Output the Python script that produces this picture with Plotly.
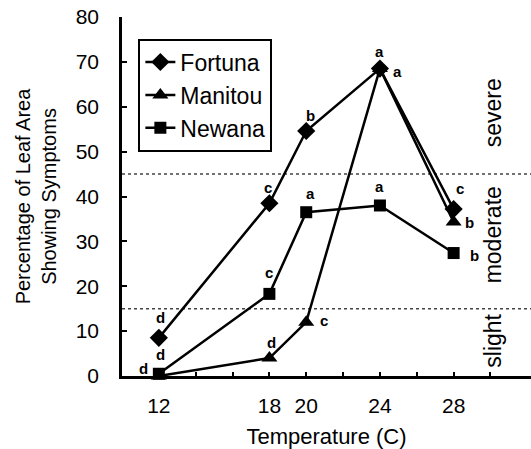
import plotly.graph_objects as go

temps = [12, 18, 20, 24, 28]
fortuna = [8.5, 38.5, 54.6, 68.5, 37.2]
manitou = [0, 4, 12, 68.5, 34.3]
newana = [0.5, 18.3, 36.5, 38, 27.4]

fortuna_letters = ["d", "c", "b", "a", "c"]
manitou_letters = ["d", "d", "c", "a", "b"]
newana_letters = ["d", "c", "a", "a", "b"]

xtick_vals = [12, 14, 16, 18, 20, 22, 24, 26, 28, 30]
xtick_text = ["12", "", "", "18", "20", "", "24", "", "28", ""]
ytick_vals = [0, 10, 20, 30, 40, 50, 60, 70, 80]

severity_labels = ["severe", "moderate", "slight"]
severity_pos = [58.7, 31.5, 7.8]
boundaries = [15, 45]

FONT = "Arial"

fig = go.Figure()
series = [("Fortuna", fortuna, "diamond", 14),
          ("Manitou", manitou, "triangle-up", 14),
          ("Newana", newana, "square", 12)]
for name, vals, sym, sz in series:
    fig.add_trace(go.Scatter(
        x=temps, y=vals, name=name, mode="lines+markers",
        line=dict(color="black", width=2.5),
        marker=dict(symbol=sym, size=sz, color="black"),
        cliponaxis=False,
    ))

# significance letters (offsets in pixels)
offsets = {
    "Fortuna": [(2, 20), (-1, 16), (4, 15), (0, 17), (6, 21)],
    "Manitou": [(-15, 8), (2, 16), (18, 2), (18, -3), (16, 0)],
    "Newana": [(2, 19), (0, 21), (4, 19), (0, 19), (21, -2)],
}
letters = {"Fortuna": fortuna_letters, "Manitou": manitou_letters, "Newana": newana_letters}
values = {"Fortuna": fortuna, "Manitou": manitou, "Newana": newana}
for name in ["Fortuna", "Manitou", "Newana"]:
    for t, v, lab, (dx, dy) in zip(temps, values[name], letters[name], offsets[name]):
        fig.add_annotation(x=t, y=v, xref="x", yref="y", text=lab, showarrow=False,
                           xshift=dx, yshift=dy,
                           font=dict(family=FONT, size=15, color="black", weight="bold"))

for b in boundaries:
    fig.add_shape(type="line", xref="paper", yref="y", x0=0, x1=1, y0=b, y1=b,
                  line=dict(color="#444444", width=1.5, dash="dot"), layer="below")

for lab, pos in zip(severity_labels, severity_pos):
    fig.add_annotation(x=0.943, y=pos, xref="paper", yref="y", text=lab, showarrow=False,
                       textangle=-90, font=dict(family=FONT, size=23, color="black"))

fig.update_layout(
    width=531, height=449,
    margin=dict(l=122, r=0, t=17, b=73),
    paper_bgcolor="white", plot_bgcolor="white",
    font=dict(family=FONT, color="black"),
    showlegend=True,
    legend=dict(x=0.04, y=0.94, xanchor="left", yanchor="top",
                bordercolor="black", borderwidth=2, bgcolor="white",
                font=dict(family=FONT, size=23, color="black"),
                tracegroupgap=0),
    xaxis=dict(range=[10, 32.2], tickvals=xtick_vals, ticktext=xtick_text,
               ticks="inside", ticklen=4, tickwidth=2, tickcolor="black",
               showline=True, linecolor="black", linewidth=3,
               showgrid=False, zeroline=False, ticklabelstandoff=9,
               automargin=False,
               tickfont=dict(family=FONT, size=21, color="black"),
               title=dict(text="Temperature (C)", standoff=14,
                          font=dict(family=FONT, size=22, color="black"))),
    yaxis=dict(range=[0, 80], tickvals=ytick_vals,
               ticks="inside", ticklen=5, tickwidth=2, tickcolor="black",
               showline=True, linecolor="black", linewidth=2.5,
               showgrid=False, zeroline=False, ticklabelstandoff=16,
               automargin=False,
               tickfont=dict(family=FONT, size=21, color="black"),
               title=dict(text="Percentage of Leaf Area<br>Showing Symptoms", standoff=14,
                          font=dict(family=FONT, size=20, color="black"))),
)

fig.write_html("out.html", config={"displayModeBar": False},
               post_script="document.body.style.margin='0px';")
